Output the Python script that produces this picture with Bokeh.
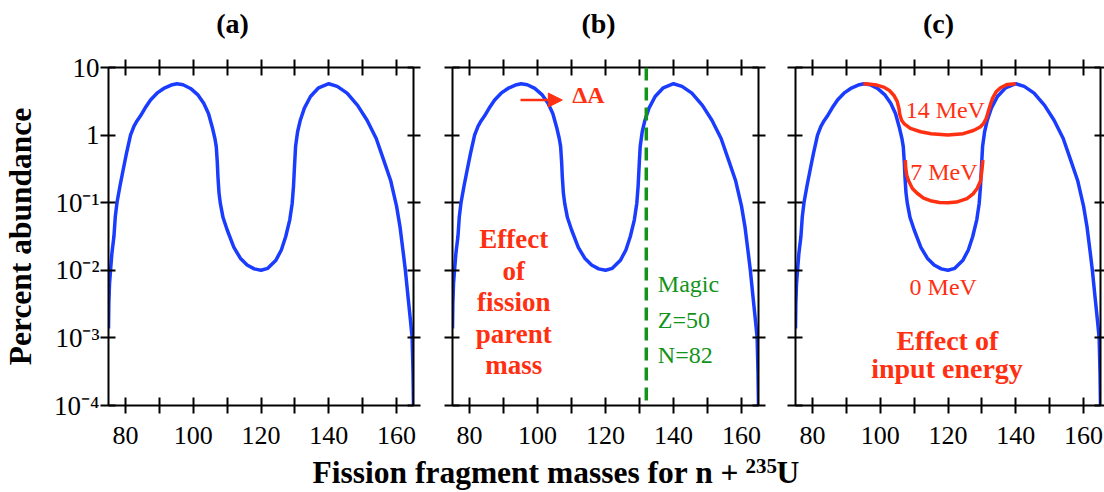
from bokeh.plotting import figure
from bokeh.models import (Range1d, LinearAxis, LogAxis, FixedTicker, Span, Arrow,
                          NormalHead, Label)
from bokeh.layouts import row, column
from bokeh.embed import file_html
from bokeh.resources import INLINE

FONT = "Liberation Serif"
BLUE = "#1a3cff"
RED = "#ff3012"
GREEN = "#12931a"

# ---- data ----
mass = [75.0, 75.1, 75.3, 75.6, 76.0, 76.6, 77.0, 77.5, 78.4, 79.3, 80.3, 81.5, 82.5, 83.4,
        84.4, 85.8, 87.4, 89.3, 91.3, 93.5, 95.2, 97.0, 99.2, 101.3, 103.1, 104.5, 105.6,
        106.4, 106.8, 107.1, 107.3, 107.6, 108.0, 108.8, 110.0, 112.0, 113.9, 115.9, 118.0,
        120.0, 122.0, 124.4, 126.0, 127.3, 128.5, 129.2, 129.6, 129.9, 130.2, 130.8, 131.6,
        132.8, 134.6, 137.0, 140.0, 142.5, 145.4, 148.5, 151.3, 154.0, 156.2, 158.3, 160.0,
        161.0, 162.0, 162.6, 163.4, 164.1, 164.6, 164.85, 165.0]
abundance = [1.38e-3, 3.24e-3, 6.3e-3, 0.0100, 0.0178, 0.0316, 0.0617, 0.100, 0.178, 0.302,
             0.537, 1.0, 1.35, 1.62, 1.91, 2.51, 3.31, 4.17, 4.90, 5.50, 5.75, 5.56, 4.90,
             3.98, 2.95, 2.09, 1.32, 0.891, 0.676, 0.398, 0.240, 0.141, 0.0977, 0.0603,
             0.0398, 0.0219, 0.0151, 0.0120, 0.0105, 0.0100, 0.0107, 0.0141, 0.0200, 0.0316,
             0.0562, 0.0977, 0.178, 0.355, 0.676, 1.12, 1.66, 2.51, 3.72, 5.01, 5.75, 5.25,
             4.17, 2.75, 1.66, 0.891, 0.427, 0.209, 0.0891, 0.0447, 0.0178, 0.0100, 0.00398,
             0.00182, 0.0010, 3.16e-4, 1.0e-4]

mass_14mev = [95.0, 97.1, 99.0, 101.0, 102.7, 104.0, 105.0, 105.5, 105.8, 106.3, 107.2, 108.9,
              111.9, 115.0, 120.0, 124.5, 127.5, 129.5, 130.5, 131.3, 132.0, 132.5, 133.2,
              134.2, 135.5, 137.5, 140.0]
abund_14mev = [5.75, 5.66, 5.50, 5.13, 4.57, 3.89, 3.16, 2.51, 2.0, 1.66, 1.45, 1.26, 1.12,
               1.05, 1.0, 1.05, 1.17, 1.32, 1.48, 1.78, 2.34, 2.82, 3.55, 4.37, 5.01, 5.62, 5.75]

mass_7mev = [107.4, 107.5, 107.8, 108.4, 109.5, 110.9, 112.8, 114.8, 117.5, 120.0, 122.5,
             125.6, 127.4, 128.6, 129.6, 130.0, 130.2, 130.3]
abund_7mev = [0.427, 0.331, 0.257, 0.209, 0.162, 0.138, 0.117, 0.107, 0.101, 0.100, 0.102,
              0.115, 0.135, 0.162, 0.209, 0.302, 0.380, 0.427]

magic_mass = 132
x_ticks = [80, 90, 100, 110, 120, 130, 140, 150, 160]
x_tick_text = ["80", "", "100", "", "120", "", "140", "", "160"]
y_ticks = [1e-4, 1e-3, 1e-2, 1e-1, 1, 10]
y_tick_text = ["10\u207b\u2074", "10\u207b\u00b3", "10\u207b\u00b2", "10\u207b\u00b9", "1", "10"]
panel_titles = ["(a)", "(b)", "(c)"]


def style_axis(ax, tin, tout):
    ax.axis_line_width = 2
    ax.axis_line_color = "black"
    ax.major_tick_line_width = 2
    ax.major_tick_line_color = "black"
    ax.major_tick_in = tin
    ax.major_tick_out = tout
    ax.minor_tick_line_color = None
    ax.major_label_text_font = FONT
    ax.major_label_text_color = "black"


def txt(p, x, y, text, size, color, bold=False, align="center"):
    p.add_layout(Label(x=x, y=y, text=text, text_font=FONT, text_font_size=size,
                       text_font_style="bold" if bold else "normal", text_color=color,
                       text_align=align, text_baseline="alphabetic"))


def text_strip(width, height):
    # a bare strip whose data units are pixels, used for texts that span panels
    s = figure(frame_width=width, frame_height=height, x_range=Range1d(0, width),
               y_range=Range1d(0, height), output_backend="svg", toolbar_location=None,
               x_axis_location=None, y_axis_location=None, min_border=0,
               min_border_left=0, min_border_right=0, min_border_top=0,
               min_border_bottom=0, outline_line_color=None, title=None)
    s.grid.visible = False
    return s


def make_panel(fw, bl, br, right_out, show_y):
    p = figure(frame_width=fw, frame_height=338, title=None,
               x_range=Range1d(75, 165), y_range=Range1d(1e-4, 10),
               y_axis_type="log", output_backend="svg", toolbar_location=None,
               min_border_left=bl, min_border_right=br, min_border_top=27,
               min_border_bottom=46, outline_line_color=None)
    p.grid.visible = False
    # bottom
    xa = p.xaxis[0]
    xa.ticker = FixedTicker(ticks=x_ticks)
    xa.major_label_overrides = dict(zip(x_ticks, x_tick_text))
    style_axis(xa, 8, 8)
    xa.major_label_text_font_size = "26px"
    xa.major_label_standoff = 13
    # left
    ya = p.yaxis[0]
    ya.ticker = FixedTicker(ticks=y_ticks)
    style_axis(ya, 7, 8)
    if show_y:
        ya.major_label_overrides = dict(zip(y_ticks, y_tick_text))
        ya.major_label_text_font_size = "27px"
        ya.major_label_standoff = 1
        ya.axis_label = "Percent abundance"
        ya.axis_label_text_font = FONT
        ya.axis_label_text_font_size = "31.5px"
        ya.axis_label_text_font_style = "bold"
        ya.axis_label_text_color = "black"
        ya.axis_label_standoff = 13
    else:
        ya.major_label_overrides = {t: "" for t in y_ticks}
        ya.major_label_standoff = 0
        ya.major_label_text_font_size = "1px"
    # top
    ta = LinearAxis(ticker=FixedTicker(ticks=x_ticks),
                    major_label_overrides={t: "" for t in x_ticks})
    style_axis(ta, 8, 8)
    ta.major_label_standoff = 0
    ta.major_label_text_font_size = "1px"
    p.add_layout(ta, "above")
    # right
    ra = LogAxis(ticker=FixedTicker(ticks=y_ticks),
                 major_label_overrides={t: "" for t in y_ticks})
    style_axis(ra, 6, right_out)
    ra.major_label_standoff = 0
    ra.major_label_text_font_size = "1px"
    p.add_layout(ra, "right")
    return p


# panel titles strip
top = text_strip(1096, 40)
for t, tx in zip(panel_titles, [232, 598, 938]):
    txt(top, tx, 17, t, "28px", "black", bold=True)

# panel (a)
pa = make_panel(305, 100, 27, 7, True)
pa.line(mass, abundance, line_color=BLUE, line_width=3.5, line_join="round")

# panel (b)
pb = make_panel(306, 12, 19, 7, False)
pb.line(mass, abundance, line_color=BLUE, line_width=3.5, line_join="round")
pb.add_layout(Span(location=magic_mass, dimension="height", line_color=GREEN,
                   line_width=3.5, line_dash="13 7"))
pb.add_layout(Arrow(end=NormalHead(size=14, fill_color=RED, line_color=RED),
                    x_start=95, y_start=3.3, x_end=107.3, y_end=3.3,
                    line_color=RED, line_width=2.5))
txt(pb, 110.2, 3.88, "\u0394A", "24px", RED, bold=True, align="left")
for line_text, yy in zip(["Effect", "of", "fission", "parent", "mass"],
                         [0.0289, 0.00991, 0.00339, 1.16e-3, 3.98e-4]):
    txt(pb, 93, yy, line_text, "27px", RED, bold=True)
for line_text, yy in zip(["Magic", "Z=50", "N=82"], [0.00629, 0.00185, 5.5e-4]):
    txt(pb, 135.4, yy, line_text, "24px", GREEN, align="left")

# panel (c)
pc = make_panel(305, 18, 4, 4, False)
pc.line(mass, abundance, line_color=BLUE, line_width=3.5, line_join="round")
pc.line(mass_14mev, abund_14mev, line_color=RED, line_width=3.5, line_join="round")
pc.line(mass_7mev, abund_7mev, line_color=RED, line_width=3.5, line_join="round")
txt(pc, 119.2, 2.32, "14 MeV", "24px", RED)
txt(pc, 118.8, 0.283, "7 MeV", "24px", RED)
txt(pc, 118.6, 0.00569, "0 MeV", "24px", RED)
txt(pc, 119.8, 9.14e-4, "Effect of", "28px", RED, bold=True)
txt(pc, 119.7, 3.53e-4, "input energy", "28px", RED, bold=True)

# shared x-axis label strip
lab = text_strip(1096, 41)
txt(lab, 312, 20, "Fission fragment masses for n + ", "31.5px", "black", bold=True, align="left")
txt(lab, 745, 27, "235", "21px", "black", bold=True, align="left")
txt(lab, 776, 20, "U", "31.5px", "black", bold=True, align="left")

layout = column(top, row(pa, pb, pc), lab)
open("out.html", "w").write(file_html(layout, INLINE, "Fission yields"))
